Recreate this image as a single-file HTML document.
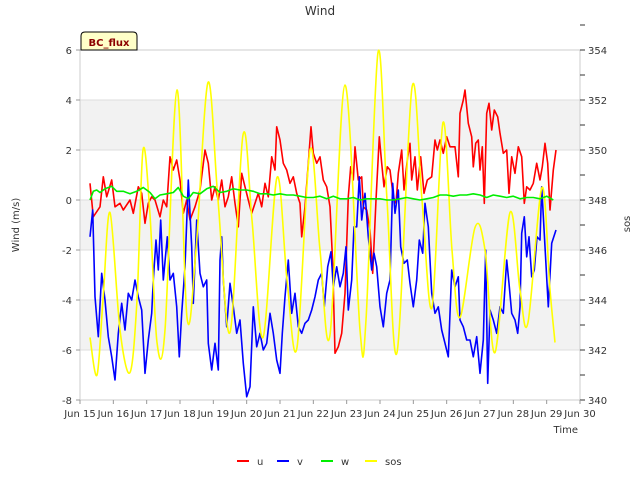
<!DOCTYPE html>
<html><head><meta charset="utf-8"><style>
body{margin:0;background:#fff;font-family:"DejaVu Sans","Liberation Sans",sans-serif}
svg text{font-family:"DejaVu Sans","Liberation Sans",sans-serif}
</style></head><body>
<svg id="chart" width="640" height="480" viewBox="0 0 640 480">
<rect x="0" y="0" width="640" height="480" fill="#fff"/>
<g id="bands"></g><g id="grid"></g>
<rect x="80" y="50" width="500" height="350" fill="none" stroke="#ccc"/>
<g id="axes"></g><g id="series"></g>
<text x="320" y="15" text-anchor="middle" font-size="12" fill="#333">Wind</text>
<text transform="translate(19,225) rotate(-90)" text-anchor="middle" font-size="10" fill="#333">Wind (m/s)</text>
<text transform="translate(630,224) rotate(-90)" text-anchor="middle" font-size="10" fill="#333">sos</text>
<text x="578" y="433" text-anchor="end" font-size="10" fill="#333">Time</text>
<g>
<path d="M81,50 L81,36 Q81,32 85,32 L133,32 Q137,32 137,36 L137,50 Z" fill="#ffffc8" stroke="#000"/>
<text x="109" y="46" text-anchor="middle" font-size="10" font-weight="bold" fill="#8b0000">BC_flux</text>
</g>
<g id="legend"></g>
</svg>
<script>
const uT=[15.30,15.40,15.60,15.70,15.80,15.95,16.05,16.20,16.30,16.50,16.60,16.75,16.85,16.95,17.05,17.15,17.25,17.40,17.50,17.60,17.70,17.80,17.90,18.00,18.10,18.20,18.30,18.45,18.60,18.75,18.85,18.95,19.05,19.15,19.25,19.35,19.45,19.55,19.65,19.75,19.85,19.95,20.05,20.15,20.25,20.35,20.45,20.55,20.65,20.75,20.85,20.90,21.00,21.10,21.20,21.30,21.40,21.50,21.60,21.65,21.75,21.85,21.93,22.00,22.10,22.20,22.30,22.40,22.50,22.58,22.65,22.75,22.85,22.95,23.05,23.12,23.20,23.25,23.35,23.45,23.50,23.60,23.70,23.78,23.88,23.98,24.05,24.12,24.22,24.30,24.40,24.48,24.55,24.65,24.72,24.82,24.90,24.95,25.05,25.12,25.22,25.32,25.42,25.55,25.65,25.72,25.80,25.90,26.00,26.10,26.20,26.25,26.35,26.40,26.50,26.55,26.65,26.75,26.80,26.87,26.95,27.00,27.07,27.13,27.20,27.27,27.35,27.43,27.53,27.60,27.70,27.80,27.87,27.95,28.05,28.15,28.25,28.33,28.40,28.50,28.60,28.70,28.80,28.87,28.95,29.03,29.10,29.20,29.28];
const uV=[0.67,-0.67,-0.27,0.93,0.13,0.8,-0.27,-0.13,-0.4,0,-0.53,0.53,0.27,-0.93,-0.13,0.13,0,-0.67,0,-0.27,1.73,1.2,1.6,0.8,-0.53,0,-0.8,-0.27,0.4,2.0,1.47,0,0.53,0,0.8,-0.27,0.13,0.93,-0.13,-1.07,1.07,0.53,0,-0.53,-0.13,0.27,-0.27,0.67,0.13,1.73,1.2,2.93,2.4,1.47,1.2,0.67,0.93,0.27,-0.13,-1.47,-0.27,1.47,2.93,1.87,1.47,1.73,0.8,0.53,-0.27,-2.53,-6.13,-5.87,-5.33,-3.73,0.13,1.33,0.8,2.13,0.8,0.93,-0.27,-0.4,-1.2,-2.93,0,2.53,1.47,0.53,1.33,1.2,0.13,-0.13,1.07,2.0,0.4,1.6,2.27,0.8,1.73,0.4,1.73,0.27,0.8,0.93,2.4,2.0,2.4,1.87,2.53,2.13,2.13,2.13,0.93,3.47,4.0,4.4,3.07,2.53,1.33,2.27,2.4,1.2,2.13,-0.13,3.47,3.87,2.8,3.6,3.33,2.67,1.87,2.0,0.27,1.73,1.07,2.13,1.73,-0.13,0.53,0.4,0.67,1.47,0.8,1.33,2.27,1.47,-0.4,1.2,2.0];
const vT=[15.30,15.38,15.45,15.55,15.65,15.75,15.85,15.95,16.05,16.15,16.25,16.35,16.45,16.55,16.65,16.75,16.85,16.95,17.05,17.15,17.20,17.28,17.35,17.42,17.50,17.62,17.70,17.80,17.90,17.98,18.05,18.15,18.25,18.35,18.40,18.50,18.60,18.70,18.80,18.85,18.95,19.05,19.15,19.20,19.25,19.30,19.40,19.50,19.60,19.70,19.80,19.90,20.00,20.10,20.20,20.30,20.40,20.50,20.60,20.70,20.80,20.90,21.00,21.07,21.15,21.25,21.35,21.45,21.55,21.65,21.75,21.85,21.95,22.05,22.15,22.25,22.33,22.43,22.53,22.60,22.70,22.80,22.90,22.98,23.05,23.15,23.22,23.30,23.38,23.45,23.55,23.65,23.75,23.82,23.90,24.00,24.10,24.20,24.30,24.38,24.45,24.55,24.62,24.72,24.82,24.90,25.00,25.10,25.18,25.28,25.35,25.45,25.55,25.65,25.75,25.85,25.95,26.05,26.15,26.25,26.35,26.40,26.50,26.60,26.70,26.80,26.90,27.00,27.10,27.17,27.23,27.30,27.40,27.50,27.60,27.70,27.80,27.87,27.95,28.05,28.13,28.20,28.25,28.33,28.40,28.47,28.55,28.63,28.71,28.80,28.85,28.95,29.05,29.15,29.28];
const vV=[-1.47,-0.4,-3.87,-5.47,-2.93,-4.0,-5.47,-6.27,-7.2,-5.33,-4.13,-5.2,-3.73,-4.0,-3.2,-3.87,-4.4,-6.93,-5.6,-4.53,-3.2,-1.6,-2.8,-0.8,-3.2,-1.47,-3.2,-2.93,-4.27,-6.27,-4.53,-2.67,0.8,-1.87,-4.13,-0.8,-2.93,-3.47,-3.2,-5.73,-6.8,-5.73,-6.8,-2.4,-1.47,-3.2,-5.07,-3.33,-4.27,-5.33,-4.8,-6.53,-7.87,-7.47,-4.27,-5.87,-5.33,-6.0,-5.73,-4.53,-5.33,-6.4,-6.93,-5.33,-3.87,-2.4,-4.53,-3.73,-5.07,-5.33,-4.93,-4.8,-4.4,-3.87,-3.2,-2.93,-4.27,-2.67,-2.07,-3.47,-2.67,-3.47,-2.93,-1.87,-4.4,-3.2,-1.07,-1.07,0.93,-0.8,0.27,-1.47,-2.8,-2.13,-2.67,-4.27,-5.07,-3.73,-3.2,0.67,-0.53,0.4,-1.87,-2.53,-2.4,-3.33,-4.27,-3.2,-1.6,-2.13,-0.13,-1.07,-3.73,-4.53,-4.27,-5.2,-5.73,-6.27,-2.8,-3.47,-3.07,-4.8,-5.07,-5.6,-5.6,-6.27,-5.47,-6.93,-5.6,-2.0,-7.33,-4.4,-4.8,-5.33,-4.27,-4.53,-2.4,-3.33,-4.53,-4.8,-5.33,-4.27,-1.33,-0.67,-2.27,-1.47,-3.07,-2.8,-1.47,-1.6,0.53,-1.87,-4.27,-1.73,-1.2];
const wT=[15.3,15.4,15.5,15.6,15.75,15.95,16.1,16.3,16.5,16.7,16.9,17.1,17.25,17.4,17.6,17.8,17.95,18.1,18.25,18.4,18.6,18.8,19.0,19.2,19.4,19.6,19.8,20.0,20.2,20.4,20.6,20.8,21.0,21.2,21.4,21.6,21.8,22.0,22.2,22.4,22.6,22.8,23.0,23.2,23.4,23.6,23.8,24.0,24.2,24.4,24.6,24.8,25.0,25.2,25.4,25.6,25.8,26.0,26.2,26.4,26.6,26.8,27.0,27.2,27.4,27.6,27.8,28.0,28.2,28.4,28.6,28.8,29.0,29.2];
const wV=[0.0,0.35,0.4,0.3,0.45,0.55,0.35,0.35,0.25,0.35,0.5,0.3,0.05,0.2,0.25,0.3,0.5,0.15,0.05,0.3,0.25,0.45,0.55,0.3,0.35,0.45,0.4,0.4,0.35,0.25,0.25,0.2,0.25,0.2,0.2,0.15,0.1,0.1,0.15,0.05,0.15,0.05,0.05,0.1,0.0,0.05,0.05,0.05,0.0,0.0,0.05,0.1,0.05,0.0,0.05,0.1,0.2,0.2,0.15,0.2,0.2,0.25,0.2,0.1,0.2,0.15,0.1,0.15,0.05,0.1,0.1,0.05,0.15,0.0];
const sT=[15.30,15.51,15.69,15.90,16.20,16.50,16.71,16.89,17.10,17.31,17.55,17.91,18.21,18.48,18.84,19.14,19.50,19.89,20.16,20.49,20.91,21.21,21.51,21.90,22.20,22.50,22.95,23.40,23.58,23.94,24.21,24.51,24.96,25.26,25.56,25.89,26.16,26.40,26.85,27.15,27.45,27.90,28.20,28.44,28.86,29.10,29.25];
const sV=[342.5,341.0,344.0,347.5,342.8,341.1,344.0,350.0,347.4,342.3,342.8,352.4,343.3,346.0,352.7,348.0,342.7,350.6,347.2,342.5,348.9,344.8,342.1,350.0,346.0,342.6,352.6,342.8,343.2,353.9,348.0,341.9,352.5,348.0,343.7,351.1,346.0,343.3,346.9,346.0,341.9,347.5,344.4,343.1,348.5,344.4,342.3];
const leftTicks=[6,4,2,0,-2,-4,-6,-8];
const rightTicks=[354,352,350,348,346,344,342,340];
const xTickDays=[15,16,17,18,19,20,21,22,23,24,25,26,27,28,29,30];
const xTickLabels=["Jun 15","Jun 16","Jun 17","Jun 18","Jun 19","Jun 20","Jun 21","Jun 22","Jun 23","Jun 24","Jun 25","Jun 26","Jun 27","Jun 28","Jun 29","Jun 30"];

const NS="http://www.w3.org/2000/svg";
const X0=80,X1=580,Y0=50,Y1=400;
const xs=d=>X0+(d-15)/15*(X1-X0);
const yl=v=>Y0+(6-v)/14*(Y1-Y0);
const yr=v=>Y0+(354-v)/14*(Y1-Y0);
function mk(tag,attrs,parent){const e=document.createElementNS(NS,tag);for(const k in attrs)e.setAttribute(k,attrs[k]);parent.appendChild(e);return e;}
const bands=document.getElementById('bands'),grid=document.getElementById('grid'),axes=document.getElementById('axes'),series=document.getElementById('series'),legend=document.getElementById('legend');
[[4,2],[0,-2],[-4,-6]].forEach(b=>{
 const r=mk('rect',{x:X0,y:yl(b[0]),width:X1-X0,height:yl(b[1])-yl(b[0]),fill:'#f2f2f2'},bands);
 
 
});
leftTicks.forEach(v=>{
 const l=mk('line',{x1:X0,x2:X1,y1:yl(v),y2:yl(v),stroke:'#ddd'},grid);
 
 
 const t=mk('line',{x1:X0-4,x2:X0,y1:yl(v),y2:yl(v),stroke:'#999'},axes);
 
 
 const tx=mk('text',{x:X0-8,y:yl(v)+4,'text-anchor':'end','font-size':'10',fill:'#333'},axes);
 tx.textContent=v;
 
 
});
rightTicks.forEach(v=>{
 const t=mk('line',{x1:X1,x2:X1+5,y1:yr(v),y2:yr(v),stroke:'#333'},axes);
 
 
 const m=mk('line',{x1:X1,x2:X1+5,y1:yr(v+1),y2:yr(v+1),stroke:'#333'},axes);
 
 
 const tx=mk('text',{x:X1+8,y:yr(v)+4,'font-size':'10',fill:'#333'},axes);
 tx.textContent=v;
 
 
});
xTickDays.forEach((d,i)=>{
 const t=mk('line',{x1:xs(d),x2:xs(d),y1:Y1,y2:Y1+4,stroke:'#999'},axes);
 
 
 const tx=mk('text',{x:xs(d),y:Y1+17,'text-anchor':'middle','font-size':'10',fill:'#333'},axes);
 tx.textContent=xTickLabels[i];
 
 
});
function line(T,V,yf,color,name,smooth){
 const P=T.map((t,i)=>[xs(t),yf(V[i])]);
 let d='M'+P[0][0].toFixed(1)+','+P[0][1].toFixed(1);
 for(let i=1;i<P.length;i++){
  if(smooth){const p0=P[Math.max(0,i-2)],p1=P[i-1],p2=P[i],p3=P[Math.min(P.length-1,i+1)];
   const c1=[p1[0]+(p2[0]-p0[0])/6,p1[1]+(p2[1]-p0[1])/6],c2=[p2[0]-(p3[0]-p1[0])/6,p2[1]-(p3[1]-p1[1])/6];
   d+=' C'+c1[0].toFixed(1)+','+c1[1].toFixed(1)+' '+c2[0].toFixed(1)+','+c2[1].toFixed(1)+' '+p2[0].toFixed(1)+','+p2[1].toFixed(1);}
  else d+=' L'+P[i][0].toFixed(1)+','+P[i][1].toFixed(1);
 }
 const p=mk('path',{d:d,fill:'none',stroke:color,'stroke-width':'1.6','stroke-linejoin':'round'},series);
 
 
}
line(uT,uV,yl,'#ff0000','series-u',false);
line(vT,vV,yl,'#0000ff','series-v',false);
line(sT,sV,yr,'#ffff00','series-sos',true);
line(wT,wV,yl,'#00ee00','series-w',false);
const legItems=[['u','#ff0000',237],['v','#0000ff',277],['w','#00ee00',321],['sos','#ffff00',365]];
legItems.forEach(it=>{
 const g=mk('g',{},legend);
 
 
 mk('line',{x1:it[2],x2:it[2]+12,y1:461,y2:461,stroke:it[1],'stroke-width':'2'},g);
 const t=mk('text',{x:it[2]+20,y:465,'font-size':'10',fill:'#333'},g);
 t.textContent=it[0];
});
</script>
</body></html>
